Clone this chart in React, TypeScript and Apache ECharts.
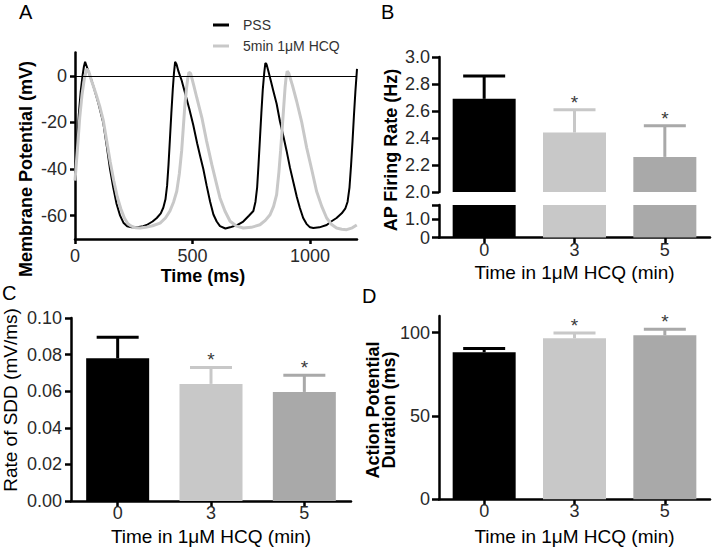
import React, { useEffect, useRef } from 'react';
import * as echarts from 'echarts';

const FONT = '"Liberation Sans", Arial, Helvetica, sans-serif';

// Panel A: membrane potential traces [time ms, mV]
const pssTrace: [number, number][] = [
  [0, -42], [8, -30], [16, -17], [24, -7], [32, 0], [38, 4], [43, 6], [50, 4], [64, 0], [80, -5],
  [100, -12], [120, -20], [135, -30], [149, -40], [163, -48], [177, -55], [192, -60], [206, -63],
  [222, -64.5], [241, -65], [265, -65], [290, -64.5], [305, -64], [330, -62.5], [348, -61],
  [365, -59], [376, -56.5], [385, -53], [392, -47], [398, -38], [404, -27], [410, -16], [416, -6],
  [421, 1], [426, 6], [432, 5], [440, 2], [454, -2], [470, -8], [486, -14], [503, -21], [520, -29],
  [534, -35], [546, -40], [560, -47], [575, -54], [589, -59.5], [603, -62.5], [617, -64.5],
  [640, -65.5], [660, -65], [690, -64], [716, -62.5], [740, -60], [759, -58], [768, -54],
  [775, -48], [781, -38], [787, -27], [793, -16], [799, -6], [805, 1], [810, 5.5], [815, 5],
  [823, 2], [833, -2], [844, -6.5], [858, -12], [872, -19.5], [887, -26], [900, -32], [915, -39.5],
  [930, -46], [944, -52], [957, -56.7], [971, -61], [985, -63.5], [1000, -65], [1014, -65.3],
  [1040, -65], [1071, -64], [1090, -62.5], [1113, -61], [1135, -59], [1150, -57], [1160, -54],
  [1168, -48], [1175, -38], [1181, -28], [1187, -17], [1193, -7], [1200, 3],
];
const hcqTrace: [number, number][] = [
  [0, -45], [10, -32], [20, -18], [30, -8], [40, -1], [50, 3], [58, 2], [70, -2], [90, -8],
  [105, -13], [120, -19], [135, -28], [150, -37], [165, -45], [180, -52], [195, -57], [210, -61],
  [225, -63.5], [240, -64.5], [260, -65.2], [277, -65.3], [300, -65], [330, -64.3], [362, -63.2],
  [385, -61], [404, -58], [420, -54], [433, -49.5], [444, -42], [454, -32], [461, -22], [468, -12],
  [475, -5], [480, -1], [485, 1.5], [492, 1], [505, -4], [518, -9.3], [540, -18], [560, -28],
  [582, -38], [603, -46.7], [617, -52.4], [638, -58], [660, -62.4], [688, -64.5], [716, -65.3],
  [750, -65], [787, -63.9], [810, -62], [830, -59.6], [845, -56], [858, -51], [868, -41],
  [875, -32], [880, -25], [887, -15], [894, -5], [898, -1], [903, 2], [910, 1], [925, -4],
  [943, -10.8], [965, -20], [986, -30.9], [1008, -40.5], [1028, -49.5], [1050, -56], [1071, -61],
  [1092, -63.8], [1113, -65.3], [1135, -65.8], [1156, -66], [1180, -65.2], [1199, -64],
];
const traceNames = ['PSS', '5min 1μM HCQ'];
const aXTicks = [0, 500, 1000];
const aYTicks = [0, -20, -40, -60];

// Bar panels
const categories = ['0', '3', '5'];
const significance = ['', '*', '*'];
const rateMean = [2.69, 2.44, 2.26];
const rateSem = [0.17, 0.17, 0.23];
const rateUpperTicks = [2.0, 2.2, 2.4, 2.6, 2.8, 3.0];
const rateLowerTicks = [0, 1.0];
const sddMean = [0.078, 0.064, 0.0596];
const sddSem = [0.0115, 0.009, 0.0091];
const sddTicks = [0, 0.02, 0.04, 0.06, 0.08, 0.1];
const apdMean = [88.3, 96.6, 98.4];
const apdSem = [2.2, 3.2, 3.6];
const apdTicks = [0, 50, 100];

const barColors = ['#000000', '#c8c8c8', '#a9a9a9'];
const AXIS_W = 2.5;

const tickLabel = (margin: number, formatter: any) => ({
  fontFamily: FONT,
  fontSize: 18,
  color: '#2a2a2a',
  margin,
  formatter,
});

function catX(gridIndex: number, show: boolean, name = '') {
  return {
    type: 'category',
    gridIndex,
    data: categories,
    name,
    nameLocation: 'middle',
    nameGap: 25,
    nameTextStyle: { fontFamily: FONT, fontSize: 19, color: '#000' },
    axisLine: { show, onZero: false, lineStyle: { color: '#000', width: AXIS_W } },
    axisTick: { show, alignWithLabel: true, length: 6, lineStyle: { color: '#000', width: AXIS_W } },
    axisLabel: { show, ...tickLabel(3, undefined) },
    splitLine: { show: false },
  };
}

function valY(gridIndex: number, min: number, max: number, ticks: number[], labels: number[], fmt: (v: number) => string, tickLen = 7) {
  return {
    type: 'value',
    gridIndex,
    min,
    max,
    axisLine: { show: true, onZero: false, lineStyle: { color: '#000', width: AXIS_W } },
    axisTick: { show: true, length: tickLen, customValues: ticks, lineStyle: { color: '#000', width: AXIS_W } },
    axisLabel: { ...tickLabel(9, fmt), customValues: labels },
    splitLine: { show: false },
  };
}

function barSeries(vals: number[], xi: number, yi: number) {
  return {
    type: 'bar',
    xAxisIndex: xi,
    yAxisIndex: yi,
    barWidth: 63,
    clip: true,
    silent: true,
    data: vals.map((v, i) => ({ value: v, itemStyle: { color: barColors[i] } })),
  };
}

function errSeries(mean: number[], sem: number[], xi: number, yi: number) {
  return {
    type: 'custom',
    xAxisIndex: xi,
    yAxisIndex: yi,
    silent: true,
    clip: false,
    z: 5,
    data: mean.map((m, i) => [i, m, m + sem[i]]),
    encode: { x: 0, y: 1 },
    renderItem: (params: any, api: any) => {
      const i = api.value(0);
      const base = api.coord([i, api.value(1)]);
      const top = api.coord([i, api.value(2)]);
      const color = barColors[i];
      const half = 21;
      const children: any[] = [
        { type: 'line', shape: { x1: base[0], y1: base[1], x2: top[0], y2: top[1] }, style: { stroke: color, lineWidth: 3 } },
        { type: 'line', shape: { x1: top[0] - half, y1: top[1], x2: top[0] + half, y2: top[1] }, style: { stroke: color, lineWidth: 3 } },
      ];
      if (significance[i]) {
        children.push({
          type: 'text',
          x: top[0],
          y: top[1] + 2,
          style: { text: significance[i], fill: '#3a3a3a', fontSize: 19, fontFamily: FONT, align: 'center', verticalAlign: 'bottom' },
        });
      }
      return { type: 'group', children };
    },
  };
}

const yTitle = (text: string, x: number, y: number, size: number, weight: string, lineHeight?: number) => ({
  type: 'text',
  x,
  y,
  rotation: Math.PI / 2,
  silent: true,
  style: {
    text,
    fontSize: size,
    fontWeight: weight,
    fontFamily: FONT,
    fill: '#000',
    align: 'center',
    verticalAlign: 'middle',
    lineHeight: lineHeight || size,
  },
});

const panelLetter = (text: string, left: number, top: number) => ({
  type: 'text',
  left,
  top,
  silent: true,
  style: { text, fontSize: 20, fontFamily: FONT, fill: '#000' },
});

export default function App() {
  const ref = useRef<HTMLDivElement>(null);
  useEffect(() => {
    if (!ref.current) return;
    const chart = echarts.init(ref.current, undefined, { renderer: 'svg' });
    const option: any = {
      animation: false,
      backgroundColor: '#ffffff',
      grid: [
        { left: 75, top: 52.5, width: 282, height: 186.5 },
        { left: 439, top: 57, width: 271, height: 135 },
        { left: 439, top: 205, width: 271, height: 32.5 },
        { left: 71, top: 318, width: 280, height: 183 },
        { left: 439, top: 316, width: 271, height: 183.3 },
      ],
      legend: {
        data: traceNames,
        orient: 'vertical',
        left: 208,
        top: 13,
        itemWidth: 16,
        itemHeight: 3,
        itemGap: 7,
        icon: 'rect',
        selectedMode: false,
        textStyle: { fontFamily: FONT, fontSize: 14, color: '#333', padding: [0, 0, 0, 9] },
      },
      xAxis: [
        {
          type: 'value',
          gridIndex: 0,
          min: 0,
          max: 1200,
          name: 'Time (ms)',
          nameLocation: 'middle',
          nameGap: 28,
          nameTextStyle: { fontFamily: FONT, fontSize: 18, fontWeight: 'bold', color: '#000', padding: [0, 26, 0, 0] },
          axisLine: { show: true, onZero: false, lineStyle: { color: '#000', width: AXIS_W } },
          axisTick: { show: true, length: 5, customValues: aXTicks, lineStyle: { color: '#000', width: AXIS_W } },
          axisLabel: { ...tickLabel(8, (v: number) => String(v)), customValues: aXTicks },
          splitLine: { show: false },
        },
        catX(1, false),
        catX(2, true, 'Time in 1μM HCQ (min)'),
        { ...catX(3, true, 'Time in 1μM HCQ (min)'), nameGap: 26 },
        { ...catX(4, true, 'Time in 1μM HCQ (min)'), nameGap: 28 },
      ],
      yAxis: [
        { ...valY(0, -70, 10, aYTicks, aYTicks, (v) => String(v), 5), axisLabel: { ...tickLabel(8, (v: number) => String(v)), customValues: aYTicks } },
        valY(1, 2, 3, rateUpperTicks, rateUpperTicks, (v) => v.toFixed(1)),
        valY(2, 0, 1.8, [0, 1, 1.8], rateLowerTicks, (v) => (v === 0 ? '0' : v.toFixed(1))),
        valY(3, 0, 0.1, sddTicks, sddTicks, (v) => v.toFixed(2), 6),
        valY(4, 0, 110, apdTicks, apdTicks, (v) => String(v)),
      ],
      series: [
        {
          name: traceNames[0],
          type: 'line',
          xAxisIndex: 0,
          yAxisIndex: 0,
          data: pssTrace,
          showSymbol: false,
          symbol: 'none',
          silent: true,
          lineStyle: { color: '#000', width: 2 },
          itemStyle: { color: '#000' },
          markLine: {
            silent: true,
            symbol: ['none', 'none'],
            label: { show: false },
            lineStyle: { color: '#000', width: 1, type: 'solid' },
            data: [{ yAxis: 0 }],
          },
        },
        {
          name: traceNames[1],
          type: 'line',
          xAxisIndex: 0,
          yAxisIndex: 0,
          data: hcqTrace,
          showSymbol: false,
          symbol: 'none',
          silent: true,
          lineStyle: { color: '#c8c8c8', width: 3 },
          itemStyle: { color: '#c8c8c8' },
        },
        barSeries(rateMean, 1, 1),
        barSeries(rateMean, 2, 2),
        errSeries(rateMean, rateSem, 1, 1),
        barSeries(sddMean, 3, 3),
        errSeries(sddMean, sddSem, 3, 3),
        barSeries(apdMean, 4, 4),
        errSeries(apdMean, apdSem, 4, 4),
      ],
      graphic: [
        panelLetter('A', 19, 2),
        panelLetter('B', 381, 2),
        panelLetter('C', 2, 283),
        panelLetter('D', 362, 286),
        yTitle('Membrane Potential (mV)', 26, 169, 18, 'bold'),
        yTitle('AP Firing Rate (Hz)', 391, 150, 18, 'bold'),
        yTitle('Rate of SDD (mV/ms)', 10, 400, 19, 'normal'),
        yTitle('Action Potential\nDuration (ms)', 381, 410, 18, 'bold', 16),
      ],
    };
    chart.setOption(option);
    return () => chart.dispose();
  }, []);
  return (
    <div
      ref={ref}
      style={{ position: 'absolute', left: 0, top: 0, width: 714, height: 549, background: '#fff' }}
    />
  );
}
